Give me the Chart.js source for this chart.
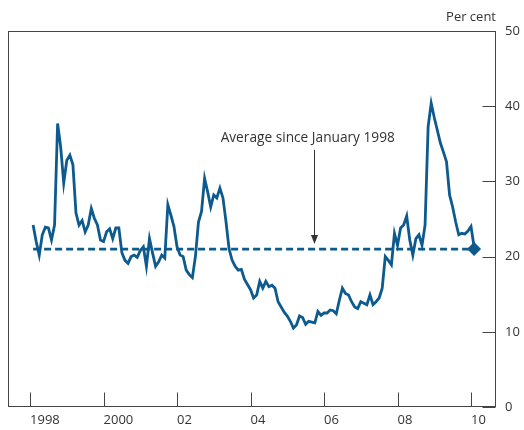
<!DOCTYPE html>
<html><head><meta charset="utf-8">
<script src="https://cdn.jsdelivr.net/npm/chart.js@4.4.1/dist/chart.umd.min.js"></script>
<style>html,body{margin:0;padding:0;background:#fff;overflow:hidden;}</style>
</head><body>
<canvas id="c" width="524" height="430"></canvas>
<script>
// ---- data (monthly, January 1998 onwards) ----
const startYear = 1998;
const monthlyValues = [
  24.2, 22.0, 20.2, 22.9, 23.9, 23.8, 22.2, 24.2, 37.7, 34.6, 29.8, 32.8,
  33.5, 32.2, 25.8, 24.2, 24.8, 23.3, 24.2, 26.4, 25.1, 24.2, 22.2, 22.0,
  23.3, 23.7, 22.4, 23.8, 23.8, 20.5, 19.5, 19.1, 20.0, 20.2, 19.9, 20.8,
  21.3, 18.7, 22.4, 20.5, 18.7, 19.3, 20.2, 19.8, 26.9, 25.5, 24.0, 21.3,
  20.2, 20.0, 18.2, 17.6, 17.2, 20.0, 24.6, 26.0, 30.4, 28.6, 26.6, 28.2,
  27.8, 29.1, 27.8, 24.6, 21.0, 19.5, 18.7, 18.2, 18.3, 17.0, 16.3, 15.6,
  14.5, 14.9, 16.7, 15.8, 16.7, 16.0, 16.2, 15.8, 14.0, 13.3, 12.6, 12.1,
  11.4, 10.5, 10.9, 12.1, 11.9, 11.0, 11.4, 11.3, 11.2, 12.7, 12.2, 12.5,
  12.5, 12.9, 12.8, 12.4, 14.2, 15.8, 15.1, 14.9, 14.0, 13.3, 13.1, 14.0,
  13.8, 13.6, 14.9, 13.6, 14.0, 14.5, 15.8, 20.0, 19.5, 18.9, 23.1, 21.5,
  23.8, 24.2, 25.4, 22.2, 20.2, 22.4, 22.9, 21.5, 24.2, 37.3, 40.4, 38.5,
  36.8, 35.1, 33.9, 32.6, 28.2, 26.6, 24.6, 22.9, 23.1, 23.0, 23.4, 24.0,
  21.3
];
const averageValue = 21;
const tickYears = [1998, 2000, 2002, 2004, 2006, 2008, 2010];
const tickLabels = ['1998', '2000', '02', '04', '06', '08', '10'];
const yTickValues = [0, 10, 20, 30, 40, 50];
const unitLabel = 'Per cent';
const annotationText = 'Average since January 1998';
const annotationX = 2005.72;     // date the arrow points at
const annotationTop = 34.2;      // arrow start (value)
const annotationTextY = 35.8;    // text position (value)

// ---- build ----
const monthX = i => startYear + (i + 1) / 12;
const linePoints = monthlyValues.map((v, i) => ({ x: monthX(i), y: v }));
const avgPoints = [
  { x: monthX(0), y: averageValue },
  { x: monthX(monthlyValues.length - 1), y: averageValue }
];

const BLUE = '#0d5a8e';
const INK = '#333333';
const FRAME = '#444444';
const FONT = "'Open Sans', 'DejaVu Sans', sans-serif";

const framePlugin = {
  id: 'frame',
  afterDraw(chart) {
    const { ctx, chartArea: a, scales: { x, y } } = chart;
    ctx.save();
    ctx.strokeStyle = FRAME;
    ctx.lineWidth = 1;
    const L = Math.round(a.left) + 0.5, R = Math.round(a.right) - 0.5;
    const T = Math.round(a.top) + 0.5, B = Math.round(a.bottom) - 0.5;
    ctx.strokeRect(L, T, R - L, B - T);
    ctx.beginPath();
    tickYears.forEach(v => {
      const px = Math.round(x.getPixelForValue(v)) + 0.5;
      ctx.moveTo(px, B); ctx.lineTo(px, B - 14);
    });
    yTickValues.forEach(v => {
      const py = Math.round(y.getPixelForValue(v)) + 0.5;
      ctx.moveTo(R, py); ctx.lineTo(R - 13, py);
    });
    ctx.stroke();
    // unit label
    ctx.fillStyle = INK;
    ctx.font = '13px ' + FONT;
    ctx.textAlign = 'right';
    ctx.textBaseline = 'middle';
    ctx.fillText(unitLabel, a.right, 17);
    // annotation
    const ax = x.getPixelForValue(annotationX);
    ctx.font = '13.7px ' + FONT;
    ctx.textAlign = 'center';
    ctx.fillText(annotationText, ax - 6, y.getPixelForValue(annotationTextY));
    const y0 = y.getPixelForValue(annotationTop);
    const y1 = y.getPixelForValue(averageValue) - 5;
    ctx.strokeStyle = INK;
    ctx.lineWidth = 1;
    const cx = Math.round(ax) + 0.5;
    ctx.beginPath();
    ctx.moveTo(cx, y0);
    ctx.lineTo(cx, y1 - 6);
    ctx.stroke();
    ctx.beginPath();
    ctx.moveTo(cx - 3.5, y1 - 9);
    ctx.lineTo(cx + 3.5, y1 - 9);
    ctx.lineTo(cx, y1);
    ctx.closePath();
    ctx.fill();
    ctx.restore();
  }
};

new Chart(document.getElementById('c'), {
  type: 'line',
  data: {
    datasets: [
      { data: linePoints, borderColor: BLUE, borderWidth: 2.8, pointRadius: 0, tension: 0, fill: false },
      { data: avgPoints, borderColor: BLUE, borderWidth: 2.7, borderDash: [7, 4],
        pointRadius: [0, 7], pointStyle: 'rectRot', pointBackgroundColor: BLUE,
        pointBorderColor: BLUE, pointBorderWidth: 0, fill: false }
    ]
  },
  options: {
    responsive: false,
    animation: false,
    devicePixelRatio: 1,
    layout: { padding: { left: 8, right: 4, top: 31, bottom: 2 } },
    plugins: { legend: { display: false }, tooltip: { enabled: false }, title: { display: false } },
    scales: {
      x: {
        type: 'linear', position: 'bottom', min: 1997.4, max: 2010.68,
        grid: { display: false, drawTicks: false },
        border: { display: false },
        afterFit: s => { s.height = 21; },
        afterBuildTicks: s => { s.ticks = tickYears.map(v => ({ value: v })); },
        ticks: {
          align: 'start', autoSkip: false, maxRotation: 0, padding: 5,
          color: INK, font: { family: FONT, size: 13 },
          callback: v => tickLabels[tickYears.indexOf(v)]
        }
      },
      y: {
        position: 'right', min: 0, max: 50,
        grid: { display: false, drawTicks: false },
        border: { display: false },
        afterFit: s => { s.width = 24; },
        afterBuildTicks: s => { s.ticks = yTickValues.map(v => ({ value: v })); },
        ticks: { padding: 9, color: INK, font: { family: FONT, size: 13 } }
      }
    }
  },
  plugins: [framePlugin]
});
</script>
</body></html>
